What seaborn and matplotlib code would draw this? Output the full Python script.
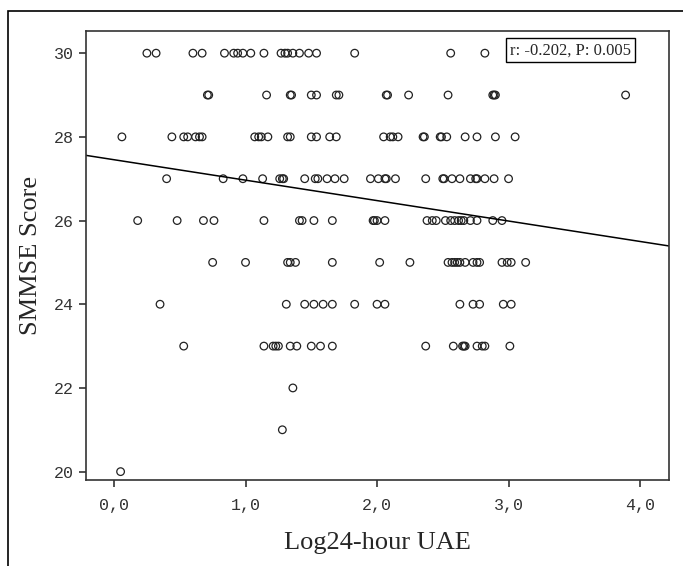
import numpy as np
import matplotlib
matplotlib.use("Agg")
import matplotlib.pyplot as plt
import seaborn as sns
import pandas as pd
from matplotlib.ticker import FuncFormatter
from matplotlib.patches import Rectangle

# Log24-hour UAE degerleri, her SMMSE skoru icin ayri liste
uae_30 = [0.25, 0.32, 0.60, 0.67, 0.84, 0.91, 0.94, 0.98, 1.04, 1.14, 1.27, 1.30,
          1.32, 1.36, 1.41, 1.48, 1.54, 1.83, 2.56, 2.82]
uae_29 = [0.71, 0.72, 1.16, 1.34, 1.35, 1.50, 1.54, 1.69, 1.71, 2.07, 2.08, 2.24,
          2.54, 2.88, 2.89, 2.90, 3.89]
uae_28 = [0.06, 0.44, 0.53, 0.56, 0.62, 0.65, 0.67, 1.07, 1.10, 1.12, 1.17, 1.32,
          1.34, 1.50, 1.54, 1.64, 1.69, 2.05, 2.10, 2.12, 2.16, 2.35, 2.36, 2.48,
          2.49, 2.53, 2.67, 2.76, 2.90, 3.05]
uae_27 = [0.40, 0.83, 0.98, 1.13, 1.26, 1.28, 1.29, 1.45, 1.53, 1.55, 1.62, 1.68,
          1.75, 1.95, 2.01, 2.06, 2.07, 2.14, 2.37, 2.50, 2.51, 2.57, 2.63, 2.71,
          2.75, 2.76, 2.82, 2.89, 3.00]
uae_26 = [0.18, 0.48, 0.68, 0.76, 1.14, 1.41, 1.43, 1.52, 1.66, 1.97, 1.98, 2.00,
          2.06, 2.38, 2.42, 2.45, 2.52, 2.56, 2.59, 2.62, 2.64, 2.66, 2.71, 2.76,
          2.88, 2.95]
uae_25 = [0.75, 1.00, 1.32, 1.34, 1.38, 1.66, 2.02, 2.25, 2.54, 2.57, 2.59, 2.61,
          2.63, 2.67, 2.73, 2.76, 2.78, 2.95, 2.99, 3.02, 3.13]
uae_24 = [0.35, 1.31, 1.45, 1.52, 1.59, 1.66, 1.83, 2.00, 2.06, 2.63, 2.73, 2.78,
          2.96, 3.02]
uae_23 = [0.53, 1.14, 1.21, 1.23, 1.25, 1.34, 1.39, 1.50, 1.57, 1.66, 2.37, 2.58,
          2.65, 2.66, 2.67, 2.76, 2.80, 2.82, 3.01]
uae_22 = [1.36]
uae_21 = [1.28]
uae_20 = [0.05]

rows = {30: uae_30, 29: uae_29, 28: uae_28, 27: uae_27, 26: uae_26, 25: uae_25,
        24: uae_24, 23: uae_23, 22: uae_22, 21: uae_21, 20: uae_20}

xs, ys = [], []
for skor, liste in rows.items():
    xs += liste
    ys += [skor] * len(liste)
veri = pd.DataFrame({"uae": xs, "smmse": ys})

stat_text = "r: -0.202, P: 0.005"

sns.set_style("white")
fig = plt.figure(figsize=(6.83, 5.66), dpi=100)
ax = fig.add_axes([86 / 683, 86 / 566, 583 / 683, 449 / 566])

# dis cerceve
fig.patches.append(Rectangle((8 / 683, -0.1), 1.2, (555 / 566) + 0.1,
                             transform=fig.transFigure, fill=False,
                             edgecolor="black", linewidth=1.2))

# eksen sinirlari once, regresyon cizgisi kenarlara uzansin diye
ax.set_xlim(-0.213, 4.22)
ax.set_ylim(19.8, 30.53)

sns.scatterplot(data=veri, x="uae", y="smmse", ax=ax, marker="o", s=30,
                facecolor="none", edgecolor="#222222", linewidth=0.9)
sns.regplot(data=veri, x="uae", y="smmse", ax=ax, scatter=False, ci=None,
            truncate=False, color="black", line_kws={"linewidth": 1.1})

ax.set_xlim(-0.213, 4.22)
ax.set_ylim(19.8, 30.53)
ax.set_xticks([0, 1, 2, 3, 4])
ax.set_yticks([20, 22, 24, 26, 28, 30])
ax.xaxis.set_major_formatter(FuncFormatter(lambda v, p: f"{v:.1f}".replace(".", ",")))
ax.yaxis.set_major_formatter(FuncFormatter(lambda v, p: f"{v:.0f}"))

for sp in ax.spines.values():
    sp.set_color("#333333")
    sp.set_linewidth(1.2)
ax.tick_params(axis="both", direction="out", length=5, width=1.2, color="#333333",
               labelsize=12, left=True, bottom=True)
ax.tick_params(axis="x", pad=8)
ax.tick_params(axis="y", pad=4)
for lab in ax.get_xticklabels() + ax.get_yticklabels():
    lab.set_family("Liberation Mono")
    lab.set_color("#333333")

ax.set_xlabel("Log24-hour UAE", family="Liberation Serif", fontsize=19, labelpad=14)
ax.set_ylabel("SMMSE Score", family="Liberation Serif", fontsize=19, labelpad=8)

ax.text(0.727, 0.975, stat_text, transform=ax.transAxes, family="Liberation Serif",
        fontsize=12, ha="left", va="top",
        bbox=dict(boxstyle="square,pad=0.25", facecolor="white", edgecolor="black",
                  linewidth=1.0))

fig.savefig("out.png", dpi=100)
